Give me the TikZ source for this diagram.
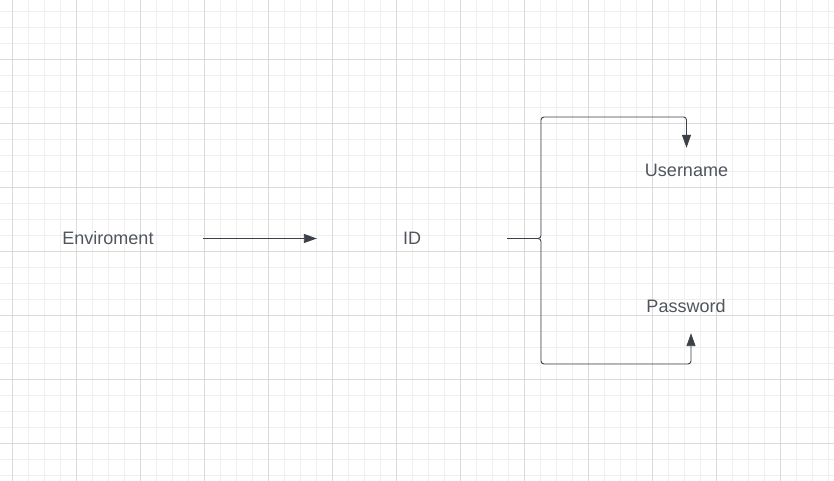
\documentclass[tikz,border=0pt]{standalone}
\usepackage{fontspec}
\setmainfont{Liberation Sans}
\usetikzlibrary{arrows.meta}

\definecolor{inkline}{HTML}{3C4048}
\definecolor{inktext}{HTML}{50555D}
\definecolor{gridlo}{HTML}{EFEFEF}
\definecolor{gridhi}{HTML}{DADADA}

\begin{document}
\begin{tikzpicture}[label/.style={text=inktext, font=\fontsize{18}{21}\selectfont,
                      minimum width=190pt, minimum height=44pt, inner sep=0pt},
                    conn/.style={draw=inkline, line width=0.9pt, rounded corners=3pt,
                      -{Triangle[length=13pt,width=9pt]}}]
  \useasboundingbox (0,0) rectangle (834pt,481pt);
  \clip (0,0) rectangle (834pt,481pt);

  % background grid
  \fill[white] (0,0) rectangle (834pt,481pt);
  \draw[step=16pt,xshift=12.5pt,yshift=6pt,gridlo,line width=0.8pt]
        (-12.5pt,-6pt) grid (821.5pt,475pt);
  \draw[step=64pt,xshift=12.5pt,yshift=38pt,gridhi,line width=0.8pt]
        (-12.5pt,-38pt) grid (821.5pt,443pt);

  % texts
  \node[label] (env)  at (108pt,242.5pt) {Enviroment};
  \node[label] (id)   at (412pt,242.5pt) {ID};
  \node[label] (user) at (686.5pt,311pt) {Username};
  \node[label, minimum height=54pt] (pass) at (686pt,175pt) {Password};

  % bracket corners
  \coordinate (top) at (541pt,364pt);
  \coordinate (bot) at (541pt,117pt);

  % connectors
  \draw[conn] (env.east) -- (id.west);
  \draw[conn] (id.east) -| (top) -| (user.north);
  \draw[conn] (id.east) -| (bot) -| ([xshift=5pt]pass.south);

\end{tikzpicture}
\end{document}
